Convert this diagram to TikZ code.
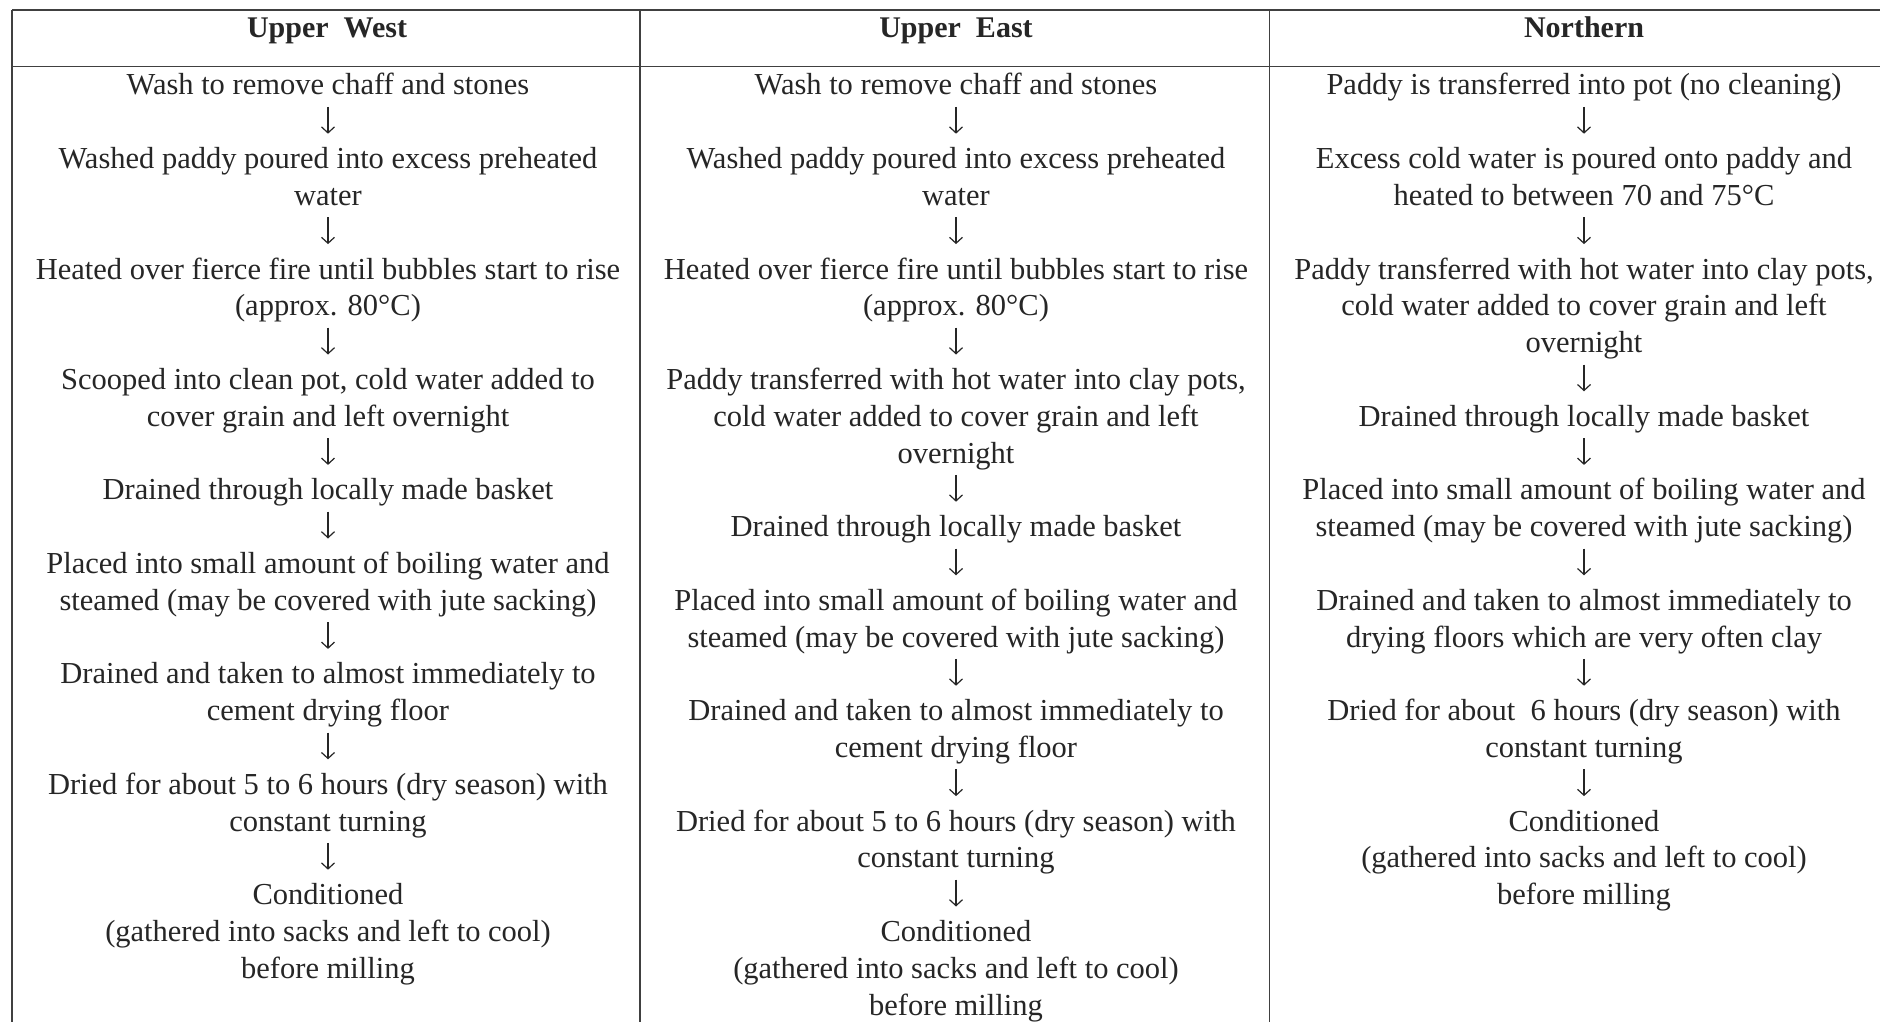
\documentclass[tikz,border=0pt]{standalone}
\usepackage{fontspec}
\setmainfont{Liberation Serif}
\usetikzlibrary{arrows.meta}
\newcommand\ls{\rule[-8.4pt]{0pt}{36.8pt}}
\begin{document}
\begin{tikzpicture}[x=1pt,y=-1pt,
  stepnode/.style={inner sep=0pt, outer sep=0pt, anchor=north, align=center,
    font=\fontsize{30.5}{36.8}\selectfont, text=black!85},
  headnode/.style={inner sep=0pt, anchor=base, font=\fontsize{30}{36}\selectfont\bfseries, text=black!85},
  flow/.style={-{Straight Barb[length=6pt,width=13pt]}, line width=1.2pt, draw=black!85,
    shorten <=3.5pt, shorten >=6.5pt},
  gridline/.style={line width=1.4pt, draw=black!75}]
\useasboundingbox[fill=white] (0,0) rectangle (1880,1022);

% grid
\draw[gridline] (12,10) -- (1880,10);
\draw[gridline] (12,66.5) -- (1880,66.5);
\draw[gridline] (12,10) -- (12,1022);
\draw[gridline] (640,10) -- (640,1022);
\draw[gridline] (1269.5,10) -- (1269.5,1022);

% headers
\node[headnode] (h1) at (327,37.5) {Upper~ West};
\node[headnode] (h2) at (956,37.5) {Upper~ East};
\node[headnode] (h3) at (1584,37.5) {Northern};

% Upper West
\node[stepnode] (uw1) at (328,{66.6+36.8*0}) {\ls Wash to remove chaff and stones};
\node[stepnode] (uw2) at (328,{66.6+36.8*2}) {\ls Washed paddy poured into excess preheated\\\ls water};
\node[stepnode] (uw3) at (328,{66.6+36.8*5}) {\ls Heated over fierce fire until bubbles start to rise\\\ls (approx. 80°C)};
\node[stepnode] (uw4) at (328,{66.6+36.8*8}) {\ls Scooped into clean pot, cold water added to\\\ls cover grain and left overnight};
\node[stepnode] (uw5) at (328,{66.6+36.8*11}) {\ls Drained through locally made basket};
\node[stepnode] (uw6) at (328,{66.6+36.8*13}) {\ls Placed into small amount of boiling water and\\\ls steamed (may be covered with jute sacking)};
\node[stepnode] (uw7) at (328,{66.6+36.8*16}) {\ls Drained and taken to almost immediately to\\\ls cement drying floor};
\node[stepnode] (uw8) at (328,{66.6+36.8*19}) {\ls Dried for about 5 to 6 hours (dry season) with\\\ls constant turning};
\node[stepnode] (uw9) at (328,{66.6+36.8*22}) {\ls Conditioned\\\ls (gathered into sacks and left to cool)\\\ls before milling};

% Upper East
\node[stepnode] (ue1) at (956,{66.6+36.8*0}) {\ls Wash to remove chaff and stones};
\node[stepnode] (ue2) at (956,{66.6+36.8*2}) {\ls Washed paddy poured into excess preheated\\\ls water};
\node[stepnode] (ue3) at (956,{66.6+36.8*5}) {\ls Heated over fierce fire until bubbles start to rise\\\ls (approx. 80°C)};
\node[stepnode] (ue4) at (956,{66.6+36.8*8}) {\ls Paddy transferred with hot water into clay pots,\\\ls cold water added to cover grain and left\\\ls overnight};
\node[stepnode] (ue5) at (956,{66.6+36.8*12}) {\ls Drained through locally made basket};
\node[stepnode] (ue6) at (956,{66.6+36.8*14}) {\ls Placed into small amount of boiling water and\\\ls steamed (may be covered with jute sacking)};
\node[stepnode] (ue7) at (956,{66.6+36.8*17}) {\ls Drained and taken to almost immediately to\\\ls cement drying floor};
\node[stepnode] (ue8) at (956,{66.6+36.8*20}) {\ls Dried for about 5 to 6 hours (dry season) with\\\ls constant turning};
\node[stepnode] (ue9) at (956,{66.6+36.8*23}) {\ls Conditioned\\\ls (gathered into sacks and left to cool)\\\ls before milling};

% Northern
\node[stepnode] (n1) at (1584,{66.6+36.8*0}) {\ls Paddy is transferred into pot (no cleaning)};
\node[stepnode] (n2) at (1584,{66.6+36.8*2}) {\ls Excess cold water is poured onto paddy and\\\ls heated to between 70 and 75°C};
\node[stepnode] (n3) at (1584,{66.6+36.8*5}) {\ls Paddy transferred with hot water into clay pots,\\\ls cold water added to cover grain and left\\\ls overnight};
\node[stepnode] (n4) at (1584,{66.6+36.8*9}) {\ls Drained through locally made basket};
\node[stepnode] (n5) at (1584,{66.6+36.8*11}) {\ls Placed into small amount of boiling water and\\\ls steamed (may be covered with jute sacking)};
\node[stepnode] (n6) at (1584,{66.6+36.8*14}) {\ls Drained and taken to almost immediately to\\\ls drying floors which are very often clay};
\node[stepnode] (n7) at (1584,{66.6+36.8*17}) {\ls Dried for about~ 6 hours (dry season) with\\\ls constant turning};
\node[stepnode] (n8) at (1584,{66.6+36.8*20}) {\ls Conditioned\\\ls (gathered into sacks and left to cool)\\\ls before milling};

% arrows
\foreach \a/\b in {1/2,2/3,3/4,4/5,5/6,6/7,7/8,8/9}{
  \draw[flow] (uw\a.south) -- (uw\b.north);
  \draw[flow] (ue\a.south) -- (ue\b.north);
}
\foreach \a/\b in {1/2,2/3,3/4,4/5,5/6,6/7,7/8}{
  \draw[flow] (n\a.south) -- (n\b.north);
}
\end{tikzpicture}
\end{document}
